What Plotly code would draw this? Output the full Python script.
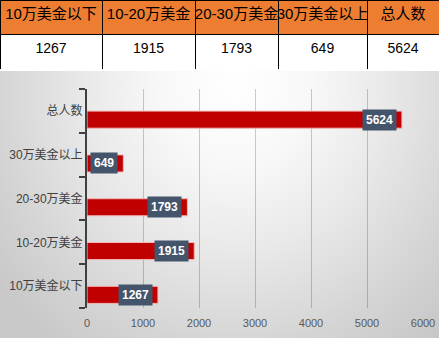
import plotly.graph_objects as go

categories = ["10万美金以下", "10-20万美金", "20-30万美金", "30万美金以上", "总人数"]
values = [1267, 1915, 1793, 649, 5624]
x_ticks = [0, 1000, 2000, 3000, 4000, 5000, 6000]

W, H = 439, 338
CJK = "Liberation Sans, Noto Sans CJK SC"

fig = go.Figure()

# background gradient panel (subplot x/y)
cx, cy, rx, ry = 0.535, 0.95, 0.683, 1.236
fig.add_trace(go.Scatter(
    x=[cx - rx, cx + rx, cx + rx, cx - rx, cx - rx],
    y=[cy - ry, cy - ry, cy + ry, cy + ry, cy - ry],
    mode="lines", fill="toself", line=dict(width=0),
    fillgradient=dict(type="radial",
                      colorscale=[[0, "#ffffff"], [0.25, "#f8f8f8"], [0.5, "#e9e9e9"],
                                  [0.8, "#d4d4d4"], [1, "#c8c8c8"]]),
    hoverinfo="skip", showlegend=False, xaxis="x", yaxis="y"))

# bars (subplot x2/y2)
bar_w = 0.39
bar_off = -0.395
fig.add_trace(go.Bar(
    y=categories, x=values, orientation="h",
    width=bar_w, offset=bar_off,
    marker=dict(color="#C00000", line=dict(color="#F2B8B8", width=1)),
    hoverinfo="skip", showlegend=False, xaxis="x2", yaxis="y2"))

# table
fig.add_trace(go.Table(
    domain=dict(x=[0, 1], y=[1 - 70 / H, 1]),
    columnwidth=[102, 93, 83, 89, 72],
    header=dict(values=categories, fill_color="#ED7D31",
                line=dict(color="#000000", width=1),
                font=dict(family=CJK, size=15, color="#000000"),
                align="center", height=34),
    cells=dict(values=[[v] for v in values], fill_color="#ffffff",
               line=dict(color="#000000", width=1),
               font=dict(family=CJK, size=14, color="#000000"),
               align="center", height=36),
))

# value labels
shift_px = (bar_off + bar_w / 2) * (219 / 5)
for c, v in zip(categories, values):
    fig.add_annotation(
        x=v, y=c, xref="x2", yref="y2", text=f"<b>{v}</b>",
        showarrow=False, xanchor="right", xshift=-5, yshift=shift_px,
        bgcolor="#44546A", borderpad=3,
        font=dict(family="Liberation Sans", size=12, color="#ffffff"))

py0, py1 = 89, 308
fig.update_layout(
    width=W, height=H, autosize=False,
    margin=dict(l=0, r=0, t=0, b=0, pad=0),
    paper_bgcolor="#ffffff", plot_bgcolor="rgba(0,0,0,0)",
    xaxis=dict(domain=[0, 1], range=[0, 1], visible=False, fixedrange=True,
               automargin=False),
    yaxis=dict(domain=[0, 1 - 71 / H], range=[0, 1], visible=False, fixedrange=True,
               automargin=False),
    xaxis2=dict(domain=[87 / W, 423 / W], range=[0, 6000], tickvals=x_ticks,
                showgrid=True, gridcolor="rgba(0,0,0,0.2)", gridwidth=1,
                zeroline=False, showline=False, ticks="", ticklabelstandoff=7,
                tickfont=dict(family="Liberation Sans", size=11, color="#595959"),
                anchor="y2", automargin=False),
    yaxis2=dict(domain=[1 - py1 / H, 1 - py0 / H], showgrid=False,
                showline=True, linecolor="#404040", linewidth=2,
                ticks="outside", tickson="boundaries", ticklen=6, tickwidth=2,
                tickcolor="#404040",
                tickfont=dict(family=CJK, size=12, color="#404040"),
                anchor="x2", automargin=False),
)

fig.write_html("out.html")
